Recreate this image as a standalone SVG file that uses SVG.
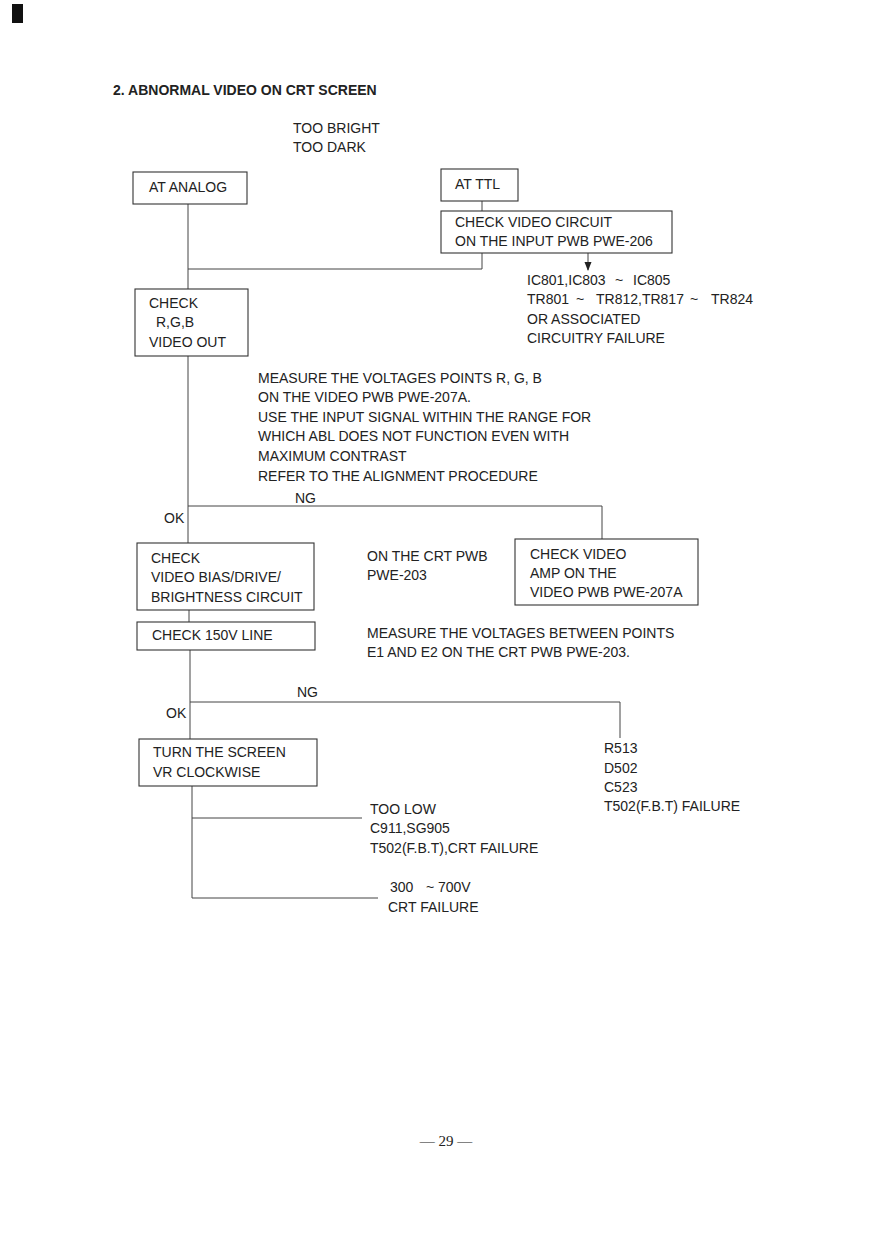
<svg xmlns="http://www.w3.org/2000/svg" width="888" height="1257" viewBox="0 0 888 1257">
<style>
text{font-family:"Liberation Sans",Arial,sans-serif;font-size:14px;fill:#222}
.title{font-weight:bold}
.box{fill:none;stroke:#333;stroke-width:1.1}
.wire{fill:none;stroke:#444;stroke-width:1}
.pg{font-family:"Liberation Serif","Times New Roman",serif;font-size:15px}
</style>
<defs>
<marker id="arr" markerUnits="userSpaceOnUse" markerWidth="8" markerHeight="9" refX="3.5" refY="8" orient="0" viewBox="0 0 7 9">
<path d="M0,0 L7,0 L3.5,9 Z" fill="#222"/>
</marker>
</defs>
<rect width="888" height="1257" fill="#fff"/>
<rect x="12" y="4" width="11" height="19" fill="#111"/>

<text class="title" x="113" y="95">2. ABNORMAL VIDEO ON CRT SCREEN</text>
<g id="heading">
<text x="293" y="133">TOO BRIGHT</text>
<text x="293" y="152">TOO DARK</text>
</g>

<g id="connectors">
<path class="wire" d="M188 204 V289"/>
<path class="wire" d="M482 201 V211"/>
<path class="wire" d="M482 253 V269 H188"/>
<path class="wire" d="M588 253 V270" marker-end="url(#arr)"/>
<path class="wire" d="M188 356 V543"/>
<path class="wire" d="M188 506 H602 V539"/>
<path class="wire" d="M189 610 V622"/>
<path class="wire" d="M190 650 V739"/>
<path class="wire" d="M190 702 H620 V738"/>
<path class="wire" d="M192 786 V898 H378"/>
<path class="wire" d="M192 818 H362"/>
</g>

<g id="at-analog">
<rect class="box" x="133" y="172" width="114" height="32"/>
<text x="149" y="192">AT ANALOG</text>
</g>
<g id="at-ttl">
<rect class="box" x="441" y="169" width="77" height="32"/>
<text x="455" y="189">AT TTL</text>
</g>
<g id="check-video-circuit">
<rect class="box" x="441" y="211" width="231" height="42"/>
<text x="455" y="227">CHECK VIDEO CIRCUIT</text>
<text x="455" y="246">ON THE INPUT PWB PWE-206</text>
</g>
<g id="ttl-failure">
<text y="285"><tspan x="527">IC801,IC803</tspan><tspan x="615">~</tspan><tspan x="633">IC805</tspan></text>
<text y="304"><tspan x="527">TR801</tspan><tspan x="576">~</tspan><tspan x="596">TR812,TR817</tspan><tspan x="690">~</tspan><tspan x="711">TR824</tspan></text>
<text x="527" y="324">OR ASSOCIATED</text>
<text x="527" y="343">CIRCUITRY FAILURE</text>
</g>
<g id="check-rgb">
<rect class="box" x="135" y="289" width="113" height="67"/>
<text x="149" y="308">CHECK</text>
<text x="156" y="327">R,G,B</text>
<text x="149" y="347">VIDEO OUT</text>
</g>
<g id="measure-rgb">
<text x="258" y="383">MEASURE THE VOLTAGES  POINTS R, G, B</text>
<text x="258" y="402">ON THE VIDEO PWB PWE-207A.</text>
<text x="258" y="422">USE THE INPUT SIGNAL WITHIN THE RANGE FOR</text>
<text x="258" y="441">WHICH ABL DOES NOT FUNCTION EVEN WITH</text>
<text x="258" y="461">MAXIMUM CONTRAST</text>
<text x="258" y="481">REFER TO THE ALIGNMENT PROCEDURE</text>
<text x="295" y="503">NG</text>
<text x="164" y="523">OK</text>
</g>
<g id="check-bias">
<rect class="box" x="137" y="543" width="177" height="67"/>
<text x="151" y="563">CHECK</text>
<text x="151" y="582">VIDEO BIAS/DRIVE/</text>
<text x="151" y="602">BRIGHTNESS CIRCUIT</text>
</g>
<g id="crt-pwb-note">
<text x="367" y="561">ON THE CRT PWB</text>
<text x="367" y="580">PWE-203</text>
</g>
<g id="check-video-amp">
<rect class="box" x="515" y="539" width="183" height="66"/>
<text x="530" y="559">CHECK VIDEO</text>
<text x="530" y="578">AMP ON THE</text>
<text x="530" y="597">VIDEO PWB PWE-207A</text>
</g>
<g id="check-150v">
<rect class="box" x="137" y="622" width="178" height="28"/>
<text x="152" y="640">CHECK 150V LINE</text>
</g>
<g id="measure-e1e2">
<text x="367" y="638">MEASURE THE VOLTAGES BETWEEN POINTS</text>
<text x="367" y="657">E1 AND E2 ON THE CRT PWB PWE-203.</text>
<text x="297" y="697">NG</text>
<text x="166" y="718">OK</text>
</g>
<g id="turn-screen">
<rect class="box" x="139" y="739" width="178" height="47"/>
<text x="153" y="757">TURN THE SCREEN</text>
<text x="153" y="777">VR CLOCKWISE</text>
</g>
<g id="fbt-failure">
<text x="604" y="753">R513</text>
<text x="604" y="773">D502</text>
<text x="604" y="792">C523</text>
<text x="604" y="811">T502(F.B.T) FAILURE</text>
</g>
<g id="too-low">
<text x="370" y="814">TOO LOW</text>
<text x="370" y="833">C911,SG905</text>
<text x="370" y="853">T502(F.B.T),CRT FAILURE</text>
</g>
<g id="range-300-700">
<text y="892"><tspan x="390">300</tspan><tspan x="426">~</tspan><tspan x="438">700V</tspan></text>
<text x="388" y="912">CRT FAILURE</text>
</g>
<text class="pg" x="446" y="1146" text-anchor="middle">— 29 —</text>
</svg>
